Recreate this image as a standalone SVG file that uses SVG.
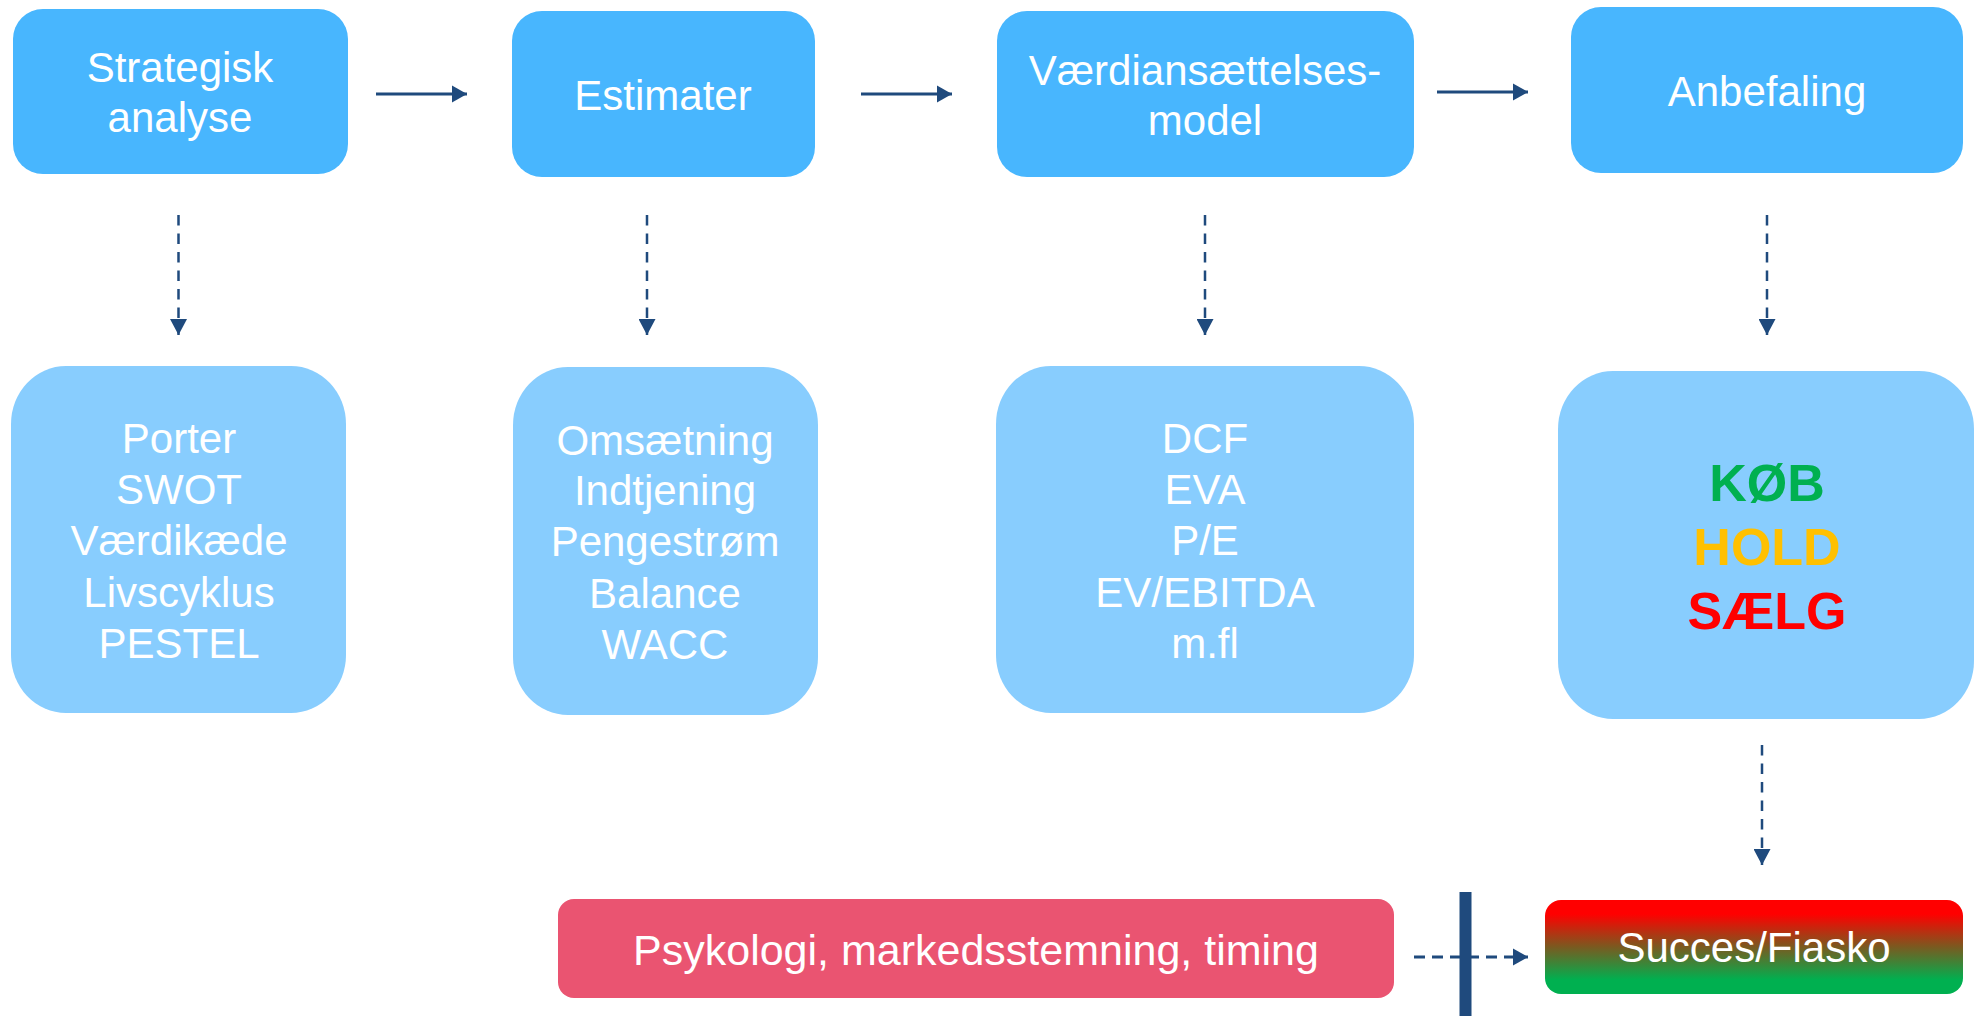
<svg xmlns="http://www.w3.org/2000/svg" width="1975" height="1016" viewBox="0 0 1975 1016">
  <style>
    .step { fill: #48B6FE; }
    .detail { fill: #88CDFE; }
    .lbl { font-family: "Liberation Sans", Arial, sans-serif; font-size: 42px; fill: #FFFFFF; text-anchor: middle; }
    .rec { font-family: "Liberation Sans", Arial, sans-serif; font-size: 52px; font-weight: bold; text-anchor: middle; }
    .flow { stroke: #1F4A7D; stroke-width: 3; fill: none; }
    .dash { stroke: #1F4A7D; stroke-width: 2.5; fill: none; stroke-dasharray: 10.5 8; }
  </style>
  <defs>
    <marker id="head" viewBox="0 0 10 10" refX="10" refY="5" markerWidth="5" markerHeight="5.7" markerUnits="strokeWidth" orient="auto" preserveAspectRatio="none">
      <path d="M0,0 L10,5 L0,10 Z" fill="#1F4A7D"/>
    </marker>
    <marker id="headDash" viewBox="0 0 10 10" refX="10" refY="5" markerWidth="6.4" markerHeight="6.8" markerUnits="strokeWidth" orient="auto" preserveAspectRatio="none">
      <path d="M0,0 L10,5 L0,10 Z" fill="#1F4A7D"/>
    </marker>
    <linearGradient id="outcome" x1="0" y1="0" x2="0" y2="1">
      <stop offset="0.15" stop-color="#FF0000"/>
      <stop offset="0.5" stop-color="#7A5A20"/>
      <stop offset="0.85" stop-color="#00B050"/>
    </linearGradient>
  </defs>

  <!-- process steps -->
  <g id="strategisk-analyse">
    <rect class="step" x="13" y="9" width="335" height="165" rx="30" ry="30"/>
    <text class="lbl" x="180" y="82">Strategisk</text>
    <text class="lbl" x="180" y="132">analyse</text>
  </g>
  <g id="estimater">
    <rect class="step" x="512" y="11" width="303" height="166" rx="30" ry="30"/>
    <text class="lbl" x="663" y="110">Estimater</text>
  </g>
  <g id="vaerdiansaettelsesmodel">
    <rect class="step" x="997" y="11" width="417" height="166" rx="30" ry="30"/>
    <text class="lbl" x="1205" y="85">Værdiansættelses-</text>
    <text class="lbl" x="1205" y="135">model</text>
  </g>
  <g id="anbefaling">
    <rect class="step" x="1571" y="7" width="392" height="166" rx="30" ry="30"/>
    <text class="lbl" x="1767" y="106">Anbefaling</text>
  </g>

  <!-- detail boxes -->
  <g id="analyse-vaerktoejer">
    <rect class="detail" x="11" y="366" width="335" height="347" rx="55" ry="58"/>
    <text class="lbl" x="179" y="453">Porter</text>
    <text class="lbl" x="179" y="504">SWOT</text>
    <text class="lbl" x="179" y="555">Værdikæde</text>
    <text class="lbl" x="179" y="607">Livscyklus</text>
    <text class="lbl" x="179" y="658">PESTEL</text>
  </g>
  <g id="estimat-poster">
    <rect class="detail" x="513" y="367" width="305" height="348" rx="55" ry="58"/>
    <text class="lbl" x="665" y="455">Omsætning</text>
    <text class="lbl" x="665" y="505">Indtjening</text>
    <text class="lbl" x="665" y="556">Pengestrøm</text>
    <text class="lbl" x="665" y="608">Balance</text>
    <text class="lbl" x="665" y="659">WACC</text>
  </g>
  <g id="modeller">
    <rect class="detail" x="996" y="366" width="418" height="347" rx="55" ry="58"/>
    <text class="lbl" x="1205" y="453">DCF</text>
    <text class="lbl" x="1205" y="504">EVA</text>
    <text class="lbl" x="1205" y="555">P/E</text>
    <text class="lbl" x="1205" y="607">EV/EBITDA</text>
    <text class="lbl" x="1205" y="658">m.fl</text>
  </g>
  <g id="anbefalinger">
    <rect class="detail" x="1558" y="371" width="416" height="348" rx="55" ry="58"/>
    <text class="rec" x="1767" y="501" fill="#00B050">KØB</text>
    <text class="rec" x="1767" y="565" fill="#FFC000">HOLD</text>
    <text class="rec" x="1767" y="629" fill="#FF0000">SÆLG</text>
  </g>

  <!-- outcome row -->
  <g id="psykologi">
    <rect x="558" y="899" width="836" height="99" rx="16" ry="16" fill="#EA5471"/>
    <text class="lbl" x="976" y="965" style="font-size:43px">Psykologi, markedsstemning, timing</text>
  </g>
  <g id="succes-fiasko">
    <rect x="1545" y="900" width="418" height="94" rx="16" ry="16" fill="url(#outcome)"/>
    <text class="lbl" x="1754" y="962">Succes/Fiasko</text>
  </g>

  <!-- connectors -->
  <g id="connectors">
    <line class="flow" x1="376" y1="94" x2="467" y2="94" marker-end="url(#head)"/>
    <line class="flow" x1="861" y1="94" x2="952" y2="94" marker-end="url(#head)"/>
    <line class="flow" x1="1437" y1="92" x2="1528" y2="92" marker-end="url(#head)"/>

    <line class="dash" x1="178.5" y1="215" x2="178.5" y2="335" marker-end="url(#headDash)"/>
    <line class="dash" x1="647" y1="215" x2="647" y2="335" marker-end="url(#headDash)"/>
    <line class="dash" x1="1205" y1="215" x2="1205" y2="335" marker-end="url(#headDash)"/>
    <line class="dash" x1="1767" y1="215" x2="1767" y2="335" marker-end="url(#headDash)"/>
    <line class="dash" x1="1762" y1="745" x2="1762" y2="865" marker-end="url(#headDash)"/>

    <line x1="1414" y1="957" x2="1528" y2="957" stroke="#1F4A7D" stroke-width="3" stroke-dasharray="11 7" marker-end="url(#head)"/>
    <line x1="1465.5" y1="892" x2="1465.5" y2="1016" stroke="#1F4A7D" stroke-width="12"/>
  </g>
</svg>
